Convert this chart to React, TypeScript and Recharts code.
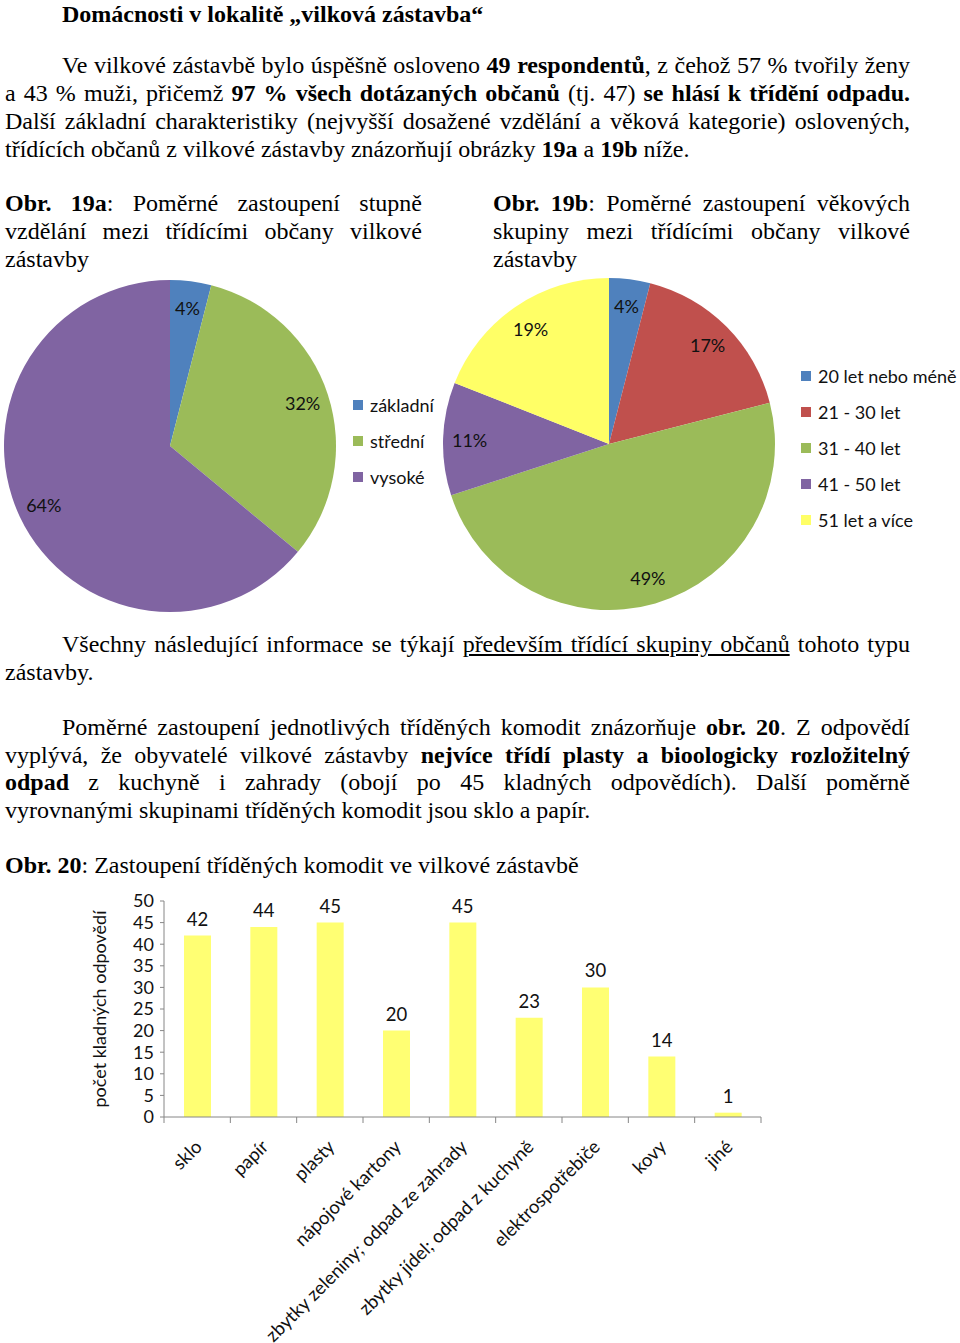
import React from 'react';
import { PieChart, Pie, Cell, Legend, BarChart, Bar, XAxis, YAxis, LabelList } from 'recharts';

const SERIF = '"Liberation Serif", "Times New Roman", serif';
const SANS = 'Lato, "Open Sans", sans-serif';
const AXIS = '#868686';

// Obr. 19a - vzdělání
const EDU_NAMES = ['základní', 'střední', 'vysoké'];
const EDU_VALUES = [4, 32, 64];
const EDU_COLORS = ['#4F81BD', '#9BBB59', '#8064A2'];

// Obr. 19b - věk
const AGE_NAMES = ['20 let nebo méně', '21 - 30 let', '31 - 40 let', '41 - 50 let', '51 let a více'];
const AGE_VALUES = [4, 17, 49, 11, 19];
const AGE_COLORS = ['#4F81BD', '#C0504D', '#9BBB59', '#8064A2', '#FFFF66'];

// Obr. 20 - komodity
const COMMODITIES = [
  'sklo',
  'papír',
  'plasty',
  'nápojové kartony',
  'zbytky zeleniny; odpad ze zahrady',
  'zbytky jídel; odpad z kuchyně',
  'elektrospotřebiče',
  'kovy',
  'jiné',
];
const COUNTS = [42, 44, 45, 20, 45, 23, 30, 14, 1];
const Y_TICKS = [0, 5, 10, 15, 20, 25, 30, 35, 40, 45, 50];

const eduData = EDU_NAMES.map((name, i) => ({ name, value: EDU_VALUES[i] }));
const ageData = AGE_NAMES.map((name, i) => ({ name, value: AGE_VALUES[i] }));
const barData = COMMODITIES.map((name, i) => ({ name, value: COUNTS[i] }));

const RAD = Math.PI / 180;

const pieLabel = (p: any) => {
  const r = p.outerRadius * 0.84;
  const x = p.cx + r * Math.cos(-p.midAngle * RAD);
  const y = p.cy + r * Math.sin(-p.midAngle * RAD);
  return (
    <text x={x} y={y} textAnchor="middle" dominantBaseline="central" fontSize={18} fontFamily={SANS} fill="#111">
      {`${p.value}%`}
    </text>
  );
};

// legend keeps the series order (recharts sorts the payload by name otherwise)
const PieLegend = ({ names, colors }: any) => (
  <div>
    {names.map((name: string, i: number) => (
      <div key={name} style={{ display: 'flex', alignItems: 'center', height: 36, fontFamily: SANS, fontSize: 18, color: '#111', whiteSpace: 'nowrap' }}>
        <span style={{ display: 'inline-block', width: 10, height: 10, background: colors[i], marginRight: 7 }} />
        {name}
      </div>
    ))}
  </div>
);

const CategoryTick = (p: any) => {
  const { x, y, payload, index } = p;
  const half = payload.offset ?? 0;
  const last = index === COMMODITIES.length - 1;
  return (
    <g>
      <line x1={x - half} x2={x - half} y1={y - 6} y2={y} stroke={AXIS} />
      {last && <line x1={x + half} x2={x + half} y1={y - 6} y2={y} stroke={AXIS} />}
      <text transform={`translate(${x + 6},${y + 25}) rotate(-45)`} textAnchor="end" fontSize={18.5} fontFamily={SANS} fill="#111">
        {payload.value}
      </text>
    </g>
  );
};

const Line = ({ x, y, w, justify, children }: any) => (
  <div
    style={{
      position: 'absolute',
      left: x,
      top: y - 14,
      width: w,
      lineHeight: '28px',
      fontSize: 24,
      textAlign: justify ? 'justify' : 'left',
      textAlignLast: justify ? 'justify' : 'left',
    } as any}
  >
    {children}
  </div>
);

export default function App() {
  return (
    <div style={{ position: 'absolute', left: 0, top: 0, width: 960, height: 1343, background: '#fff', fontFamily: SERIF, color: '#000', overflow: 'hidden' }}>
      <Line x={62} y={14} w={860}><b>Domácnosti v lokalitě „vilková zástavba“</b></Line>

      <Line x={62} y={65} w={848} justify>Ve vilkové zástavbě bylo úspěšně osloveno <b>49 respondentů</b>, z čehož 57 % tvořily ženy</Line>
      <Line x={5} y={93} w={905} justify>a 43 % muži, přičemž <b>97 % všech dotázaných občanů</b> (tj. 47) <b>se hlásí k třídění odpadu.</b></Line>
      <Line x={5} y={121} w={905} justify>Další základní charakteristiky (nejvyšší dosažené vzdělání a věková kategorie) oslovených,</Line>
      <Line x={5} y={149} w={905}>třídících občanů z vilkové zástavby znázorňují obrázky <b>19a</b> a <b>19b</b> níže.</Line>

      <Line x={5} y={203} w={417} justify><b>Obr. 19a</b>: Poměrné zastoupení stupně</Line>
      <Line x={5} y={231} w={417} justify>vzdělání mezi třídícími občany vilkové</Line>
      <Line x={5} y={259} w={417}>zástavby</Line>

      <Line x={493} y={203} w={417} justify><b>Obr. 19b</b>: Poměrné zastoupení věkových</Line>
      <Line x={493} y={231} w={417} justify>skupiny mezi třídícími občany vilkové</Line>
      <Line x={493} y={259} w={417}>zástavby</Line>

      <div style={{ position: 'absolute', left: 0, top: 276 }}>
        <PieChart width={440} height={340} margin={{ top: 0, right: 0, bottom: 0, left: 0 }}>
          <Pie
            data={eduData}
            dataKey="value"
            nameKey="name"
            cx={170}
            cy={170}
            outerRadius={166}
            startAngle={90}
            endAngle={-270}
            stroke="none"
            label={pieLabel}
            labelLine={false}
            isAnimationActive={false}
          >
            {eduData.map((d, i) => (
              <Cell key={d.name} fill={EDU_COLORS[i]} />
            ))}
          </Pie>
          <Legend
            layout="vertical"
            align="right"
            verticalAlign="middle"
            wrapperStyle={{ left: 353, top: 111, width: 'auto', right: 'auto' }}
            content={() => <PieLegend names={EDU_NAMES} colors={EDU_COLORS} />}
          />
        </PieChart>
      </div>

      <div style={{ position: 'absolute', left: 440, top: 276 }}>
        <PieChart width={520} height={340} margin={{ top: 0, right: 0, bottom: 0, left: 0 }}>
          <Pie
            data={ageData}
            dataKey="value"
            nameKey="name"
            cx={169}
            cy={168}
            outerRadius={166}
            startAngle={90}
            endAngle={-270}
            stroke="none"
            label={pieLabel}
            labelLine={false}
            isAnimationActive={false}
          >
            {ageData.map((d, i) => (
              <Cell key={d.name} fill={AGE_COLORS[i]} />
            ))}
          </Pie>
          <Legend
            layout="vertical"
            align="right"
            verticalAlign="middle"
            wrapperStyle={{ left: 361, top: 82, width: 'auto', right: 'auto' }}
            content={() => <PieLegend names={AGE_NAMES} colors={AGE_COLORS} />}
          />
        </PieChart>
      </div>

      <Line x={62} y={644} w={848} justify>
        Všechny následující informace se týkají <u>především třídící skupiny občanů</u> tohoto typu
      </Line>
      <Line x={5} y={672} w={905}>zástavby.</Line>

      <Line x={62} y={727} w={848} justify>Poměrné zastoupení jednotlivých tříděných komodit znázorňuje <b>obr. 20</b>. Z odpovědí</Line>
      <Line x={5} y={755} w={905} justify>vyplývá, že obyvatelé vilkové zástavby <b>nejvíce třídí plasty a bioologicky rozložitelný</b></Line>
      <Line x={5} y={782} w={905} justify><b>odpad</b> z kuchyně i zahrady (obojí po 45 kladných odpovědích). Další poměrně</Line>
      <Line x={5} y={810} w={905}>vyrovnanými skupinami tříděných komodit jsou sklo a papír.</Line>

      <Line x={5} y={865} w={905}><b>Obr. 20</b>: Zastoupení tříděných komodit ve vilkové zástavbě</Line>

      <div style={{ position: 'absolute', left: 0, top: 880 }}>
        <BarChart width={800} height={463} data={barData} margin={{ top: 21, right: 39, bottom: 0, left: 0 }}>
          <YAxis
            width={164}
            domain={[0, 50]}
            ticks={Y_TICKS}
            interval={0}
            tickSize={4}
            tickMargin={6}
            axisLine={{ stroke: AXIS }}
            tickLine={{ stroke: AXIS }}
            tick={{ fill: '#111', fontSize: 18, fontFamily: SANS }}
            label={{
              value: 'počet kladných odpovědí',
              angle: -90,
              position: 'center',
              dx: 18,
              style: { fill: '#111', fontSize: 18, fontFamily: SANS },
            }}
          />
          <XAxis
            dataKey="name"
            interval={0}
            height={226}
            tickLine={false}
            tickSize={6}
            tickMargin={0}
            axisLine={{ stroke: AXIS }}
            tick={<CategoryTick />}
          />
          <Bar dataKey="value" fill="#FFFF73" barSize={27} isAnimationActive={false}>
            <LabelList dataKey="value" position="top" offset={10} fill="#111" fontSize={18.5} fontFamily={SANS} />
          </Bar>
        </BarChart>
      </div>
    </div>
  );
}
